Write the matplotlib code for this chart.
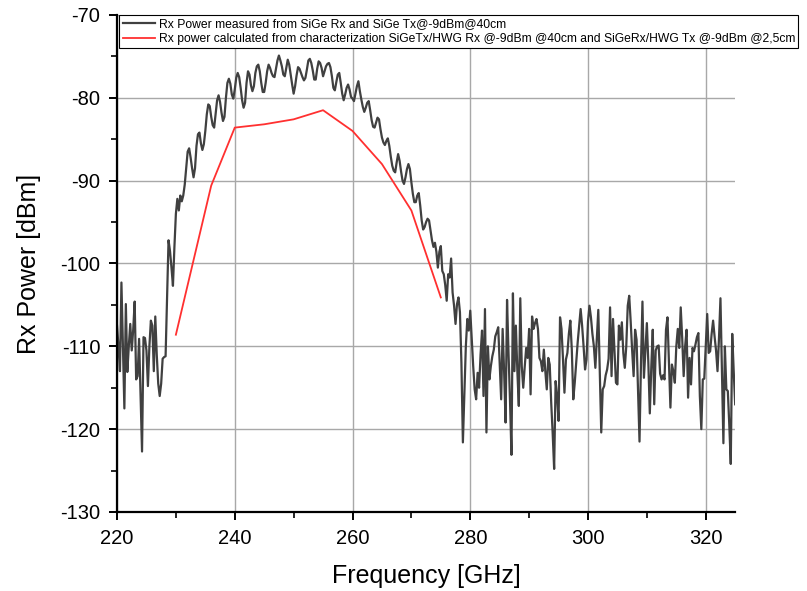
import numpy as np
import matplotlib
matplotlib.use("Agg")
import matplotlib.pyplot as plt
from matplotlib.ticker import MultipleLocator

plt.rcParams['font.family'] = ['Liberation Sans', 'DejaVu Sans']
plt.rcParams['axes.unicode_minus'] = False

# measured trace, 220 -> 325 GHz in 0.25 GHz steps
f_start = 220.0
f_step = 0.25
rx_measured = [
    # 220 - 245 GHz
    -107.5, -110, -113, -102.3, -110, -117.5, -104.9, -113.1, -110, -107.3,
    -110.5, -108, -104.6, -114, -113.6, -109.1, -116, -122.7, -108.9, -109,
    -110.5, -114.8, -110, -106.9, -107.5, -113, -106.4, -111, -114.5, -116,
    -114.5, -111.5, -111.3, -111.2, -104, -97.2, -98.5, -100.5, -102.7, -98,
    -94, -92.2, -93.6, -91.8, -92.5, -91.8, -90.5, -88.5, -86.5, -86.1,
    -87.2, -88.5, -89.6, -88.5, -85.8, -84.4, -84.2, -85.5, -86.3, -85.6,
    -84, -82, -80.8, -81, -82.3, -83.3, -83.6, -82, -80.3, -79.7,
    -80.5, -81.8, -82.8, -82.3, -80, -78.2, -77.7, -78.3, -79.6, -80.1,
    -79, -77.6, -77, -77.5, -78.8, -80.3, -81.2, -80.6, -78.2, -76.8,
    -77.2, -78.5, -79.2, -78.6, -77, -76.2, -76, -76.8, -78.2, -79.3,
    -79.3,
    # 245.25 - 273.75 GHz
    -78.2, -76.8, -76, -76.4, -77, -77.4, -77.5, -76.5, -75.5, -74.9,
    -75.5, -76.2, -77.2, -77.4, -76.4, -75.4, -76, -77.2, -78.4, -79.5,
    -78.6, -77.3, -76.3, -76.5, -77, -77.5, -77.9, -77.6, -76.6, -75.5,
    -75.3, -75.8, -76.7, -77.8, -77.8, -76.5, -75.6, -75.8, -76.4, -77.4,
    -76.8, -76.2, -75.9, -75.8, -76.3, -77.4, -78.8, -79.1, -78.1, -77.2,
    -77, -78.2, -79.5, -80.3, -79.6, -78.8, -78.4, -79, -79.9, -80.1,
    -80.4, -79.5, -78.6, -78, -79.2, -80.2, -81.1, -81.7, -81.2, -80.6,
    -80.4, -81.5, -82.7, -83.5, -83.6, -83, -82.4, -82.6, -83.8, -84.8,
    -85.4, -85.7, -85.2, -84.9, -85.8, -87.1, -88.2, -88.8, -89, -87.8,
    -86.8, -87.6, -88.9, -90, -90.4, -89.6, -88.6, -88, -88.6, -90.2,
    -91.6, -92.6, -92.6, -91.8, -91.5, -93, -94.8, -95.9, -95.6, -95,
    -94.6, -94.8, -96, -97.2, -98,
    # 274 - 276 GHz
    -97.5, -98.6, -100.5, -98.6, -97.9, -100.9, -101.3, -102.6, -104.5,
    # 276.25 - 300 GHz
    -101.3, -101.7, -99.4, -103.5, -105.1, -107.3, -104.9, -104.1,
    -105.9, -112, -121.6, -116, -110, -106.7, -108.1, -105.7,
    -109, -112.4, -115.2, -116.4, -113.2, -115, -111, -108.1,
    -116, -105.5, -120.4, -110, -114, -112.4, -111.2, -110.4,
    -108.8, -108.3, -107.7, -112, -116.4, -107.9, -113, -119.2,
    -104.4, -110.8, -116.5, -123.1, -103.6, -113, -107.5, -113,
    -117.2, -104.2, -112.4, -115, -112.5, -110.2, -111.4, -107.9,
    -115.8, -106.4, -107.9, -107.2, -106.7, -107.9, -111.4, -111.8,
    -113, -110.4, -113, -115.2, -111.4, -112.2, -116.8, -120.5,
    -124.8, -114.2, -116, -119, -106.5, -107.9, -111.5, -115.6,
    -111.6, -110.8, -108.5, -106.9, -110.4, -116.4, -114.4, -112,
    -109.5, -107.5, -105.5, -107.5, -110, -112.8, -111.6, -107,
    # 300.25 - 325 GHz
    -105.1, -106.5, -108.5, -110, -112.6, -109, -105.6, -113,
    -120.4, -115.2, -114.8, -113.5, -112.8, -111.5, -105.3, -113.6,
    -106.7, -110.5, -114.4, -114.6, -107.5, -109.2, -107.1, -110.8,
    -112.6, -110, -105.1, -103.9, -107, -110.5, -113.6, -108,
    -109.2, -115.5, -121.5, -112, -104.6, -113.8, -110.5, -107.2,
    -112, -118.1, -112.5, -108, -117, -110.5, -110, -109.9,
    -113.3, -114, -113.5, -114, -108, -106.5, -112, -117.4,
    -112.2, -113, -114.4, -110, -107.9, -110.2, -105.3, -109,
    -113.6, -110, -108, -116.2, -111.4, -114.6, -110.2, -110.6,
    -109.8, -108.9, -108.4, -116, -120, -114, -113.9, -110,
    -106.1, -110.8, -110.6, -108.5, -106.9, -108.8, -110.5, -113,
    -109, -104.2, -113, -121.7, -110, -115.2, -115.4, -119.5,
    -124.2, -108.5, -113, -117,
]
freq_measured = f_start + f_step * np.arange(len(rx_measured))

# calculated from characterization
freq_calc = [230, 236, 240, 245, 250, 255, 260, 265, 270, 275]
rx_calc = [-108.6, -90.6, -83.6, -83.2, -82.6, -81.5, -84.0, -88.0, -93.6, -104.1]

label_meas = "Rx Power measured from SiGe Rx and SiGe Tx@-9dBm@40cm"
label_calc = ("Rx power calculated from characterization SiGeTx/HWG Rx @-9dBm @40cm "
              "and SiGeRx/HWG Tx @-9dBm @2,5cm")

fig = plt.figure(figsize=(8.07, 5.91), dpi=100)
ax = fig.add_axes([0.145, 0.1337, 0.766, 0.841])

ax.plot(freq_measured, rx_measured, color='#404040', lw=1.6, label=label_meas)
ax.plot(freq_calc, rx_calc, color='#ff3030', lw=1.3, label=label_calc)

ax.set_xlim(220, 325)
ax.set_ylim(-130, -70)
ax.xaxis.set_major_locator(MultipleLocator(20))
ax.xaxis.set_minor_locator(MultipleLocator(10))
ax.yaxis.set_major_locator(MultipleLocator(10))
ax.yaxis.set_minor_locator(MultipleLocator(5))
ax.grid(True, which='major', color='#a8a8a8', lw=1.0)
ax.set_axisbelow(True)

for side in ['top', 'right']:
    ax.spines[side].set_visible(False)
for side in ['left', 'bottom']:
    ax.spines[side].set_linewidth(1.6)

ax.tick_params(which='major', direction='out', length=6, width=1.4,
               labelsize=14.5, pad=6)
ax.tick_params(which='minor', direction='out', length=4, width=1.2)

ax.set_xlabel("Frequency [GHz]", fontsize=18, labelpad=12)
ax.set_ylabel("Rx Power [dBm]", fontsize=18, labelpad=14)

leg = ax.legend(loc='upper left', bbox_to_anchor=(0.004, 1.0), fontsize=8.7,
                frameon=True, fancybox=False, framealpha=1, edgecolor='black',
                borderpad=0.25, handlelength=2.7, handletextpad=0.3,
                labelspacing=0.25, borderaxespad=0)
leg.get_frame().set_linewidth(0.8)

fig.savefig("out.png", dpi=100)
